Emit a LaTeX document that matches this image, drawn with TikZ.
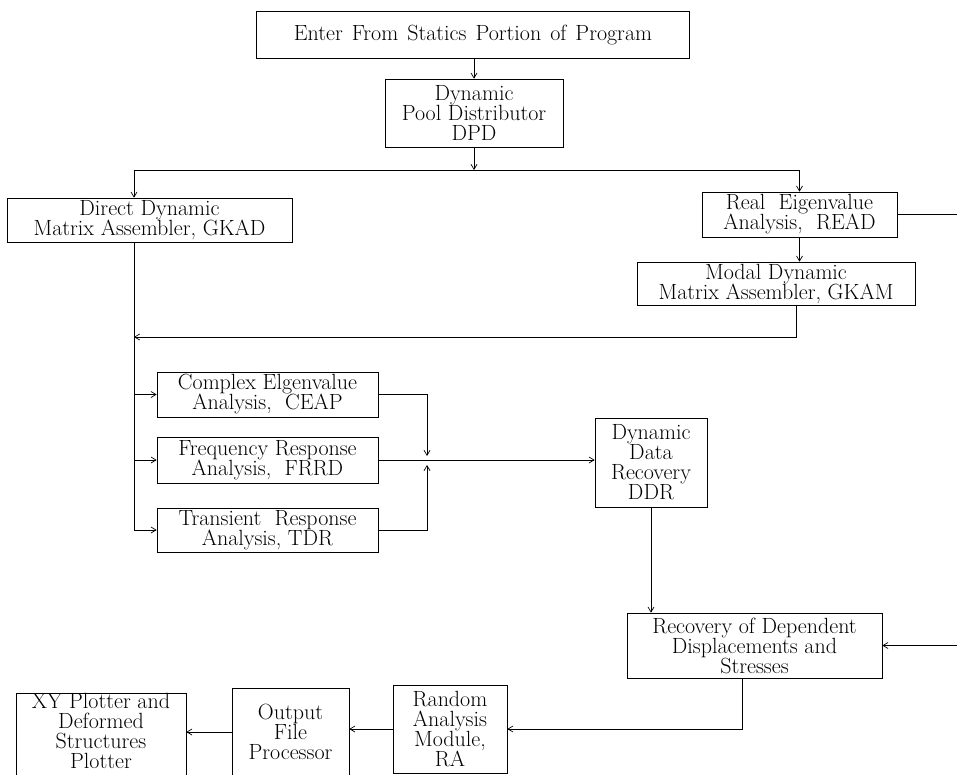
\documentclass[tikz,border=0pt]{standalone}
\usetikzlibrary{arrows.meta}
\newcommand\myboxfont{\fontsize{22pt}{20pt}\selectfont\lineskiplimit=-30pt\relax}
\begin{document}
\begin{tikzpicture}[x=1pt,y=-1pt,
  box/.style={draw, line width=0.7pt, align=center, inner sep=0pt, font=\myboxfont},
  boxtext/.style={align=center, inner sep=0pt, font=\myboxfont},
  conn/.style={line width=0.7pt},
  arr/.style={conn, -{Straight Barb[length=5pt,width=6pt]}},
]
\fill[white] (0,0) rectangle (957,774);
\useasboundingbox (0,0) rectangle (957,774);

\node[box, minimum width=433pt, minimum height=47pt] (top) at (473,35) {\spaceskip=9pt Enter From Statics Portion of Program};
\node[box, minimum width=178pt, minimum height=68pt] (DPD) at (474,113) {Dynamic\\Pool Distributor\\DPD};
\node[box, minimum width=285pt, minimum height=44pt] (GKAD) at (149.5,220) {Direct Dynamic\\Matrix Assembler, GKAD};
\node[box, minimum width=195pt, minimum height=45pt] (READ) at (799.5,214.5) {Real\ \ Eigenvalue\\Analysis,\ \ READ};
\node[box, minimum width=278pt, minimum height=43pt] (GKAM) at (776,283.5) {Modal Dynamic\\Matrix Assembler, GKAM};
\node[box, minimum width=221pt, minimum height=45pt] (CEAP) at (267.5,394.5) {Complex Elgenvalue\\Analysis,\ \ CEAP};
\node[box, minimum width=221pt, minimum height=46pt] (FRRD) at (267.5,460) {Frequency Response\\Analysis,\ \ FRRD};
\node[box, minimum width=221pt, minimum height=44pt] (TDR) at (267.5,530) {Transient\ \ Response\\Analysis, TDR};
\node[box, minimum width=112pt, minimum height=89pt] (DDR) at (651,462.5) {Dynamic\\Data\\Recovery\\DDR};
\node[box, minimum width=255pt, minimum height=65pt] (Rec) at (754.5,645.5) {Recovery of Dependent\\Displacements and\\Stresses};
\node[box, minimum width=114pt, minimum height=88pt] (RA) at (450,729) {Random\\Analysis\\Module,\\RA};
\node[box, minimum width=117pt, minimum height=88pt] (Out) at (290.5,732) {Output\\File\\Processor};
\node[draw, line width=0.7pt, minimum width=170pt, minimum height=100pt, anchor=north, inner sep=0pt] (XY) at (101,693) {};
\node[boxtext] (XYtext) at (101,731) {XY Plotter and\\Deformed\\Structures\\Plotter};

\coordinate (split) at (474,170);
\coordinate (busx) at (134,0);
\coordinate (rt) at (965,0);
\coordinate (gx) at (796,0);
\coordinate (ret) at (0,337);
\coordinate (mtop) at (427,456);
\coordinate (mbot) at (427,465);
\coordinate (rx) at (742,0);

\draw[arr] (DPD.north |- top.south) -- (DPD.north);
\draw[arr] (DPD.south) -- (split);
\draw[conn] (split -| busx) -- (split -| READ.north);
\draw[arr] (split -| busx) -- (busx |- GKAD.north);
\draw[arr] (split -| READ.north) -- (READ.north);
\draw[arr] (READ.south) -- (READ.south |- GKAM.north);
\draw[arr] (READ.east) -- (READ.east -| rt) |- (Rec.east);
\draw[arr] (gx |- GKAM.south) |- (busx |- ret);
\draw[arr] (busx |- GKAD.south) |- (TDR.west);
\draw[arr] (busx |- CEAP.west) -- (CEAP.west);
\draw[arr] (busx |- FRRD.west) -- (FRRD.west);
\draw[arr] (CEAP.east) -| (mtop);
\draw[arr] (TDR.east) -| (mbot);
\draw[arr] (FRRD.east) -- (FRRD.east -| DDR.west);
\draw[arr] (DDR.south) -- (DDR.south |- Rec.north);
\draw[arr] (rx |- Rec.south) |- (RA.east);
\draw[arr] (RA.west) -- (RA.west -| Out.east);
\draw[arr] (Out.west) -- (Out.west -| XY.east);
\end{tikzpicture}
\end{document}
